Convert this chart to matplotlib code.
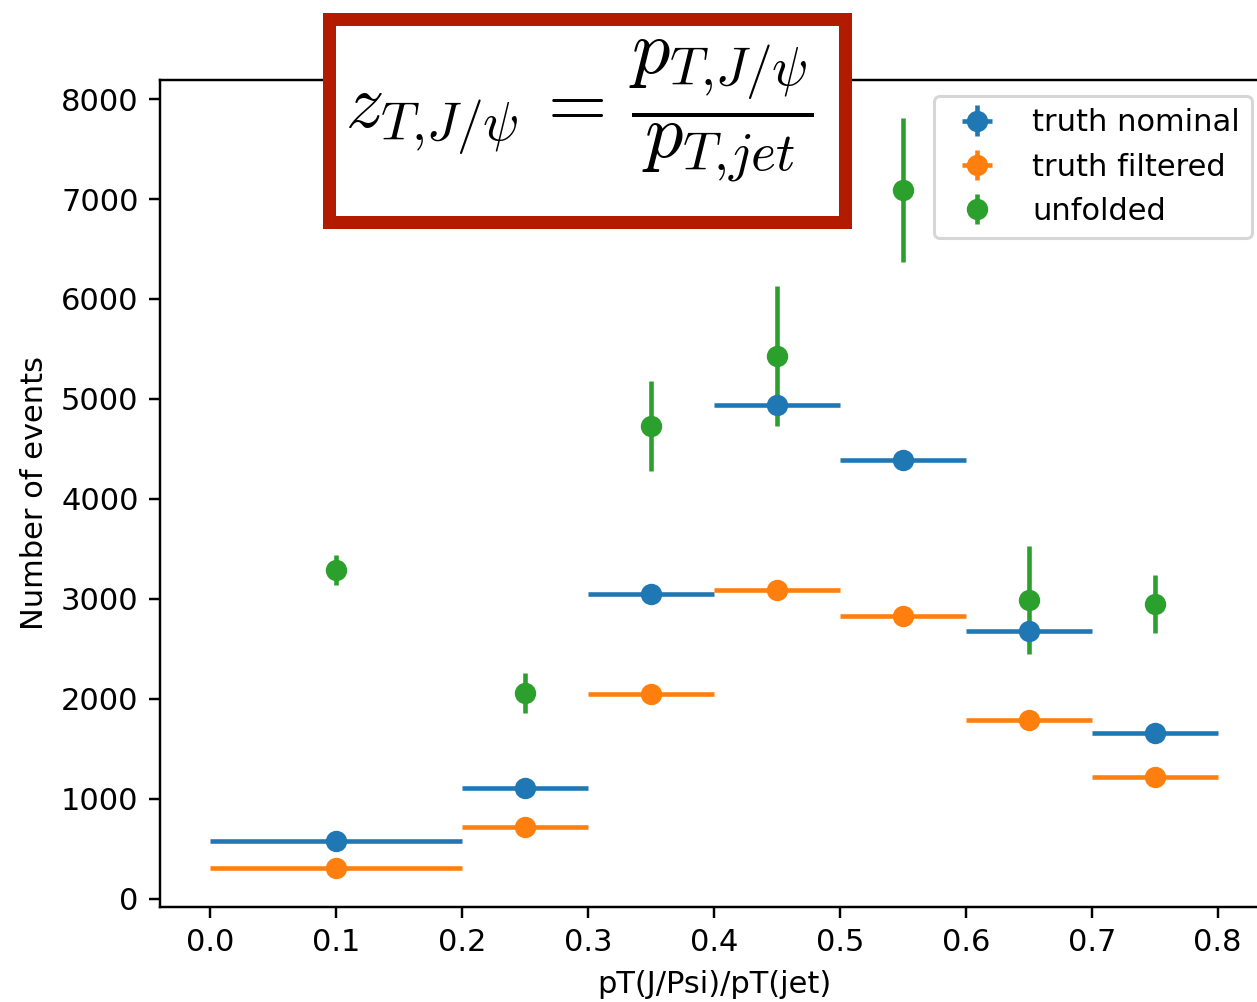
import matplotlib
matplotlib.use('Agg')
import matplotlib.pyplot as plt
from matplotlib.patches import Rectangle

plt.rcParams['mathtext.fontset'] = 'cm'

bin_lo = [0.0, 0.2, 0.3, 0.4, 0.5, 0.6, 0.7]
bin_hi = [0.2, 0.3, 0.4, 0.5, 0.6, 0.7, 0.8]

truth_nominal = [580, 1110, 3050, 4940, 4390, 2680, 1660]
truth_nominal_err = [24, 33, 55, 70, 66, 52, 41]
truth_filtered = [310, 720, 2050, 3090, 2830, 1790, 1220]
truth_filtered_err = [18, 27, 45, 56, 53, 42, 35]
unfolded = [3290, 2060, 4730, 5430, 7090, 2990, 2950]
unfolded_err = [150, 200, 450, 700, 725, 540, 290]

centers = [(a + b) / 2 for a, b in zip(bin_lo, bin_hi)]
half_w = [(b - a) / 2 for a, b in zip(bin_lo, bin_hi)]

fig = plt.figure(figsize=(1257 / 220, 1002 / 220), dpi=220)
ax = fig.add_axes([0.1273, 0.0948, 0.8815, 0.8254])

ax.errorbar(centers, truth_nominal, xerr=half_w, yerr=truth_nominal_err,
            fmt='o', label='truth nominal')
ax.errorbar(centers, truth_filtered, xerr=half_w, yerr=truth_filtered_err,
            fmt='o', label='truth filtered')
ax.errorbar(centers, unfolded, yerr=unfolded_err, fmt='o', label='unfolded',
            zorder=1.5)

ax.set_xlabel('pT(J/Psi)/pT(jet)')
ax.set_ylabel('Number of events')
ax.set_xticks([0.0, 0.1, 0.2, 0.3, 0.4, 0.5, 0.6, 0.7, 0.8])
ax.spines['right'].set_visible(False)  # cropped off in the original

ax.legend(loc='upper right', bbox_to_anchor=(1252 / 1257, 1 - 96 / 1002),
          bbox_transform=fig.transFigure, borderaxespad=0)

# formula box pasted over the top of the plot
box = Rectangle((0.2621, 0.7789), 0.4105, 0.2026, transform=fig.transFigure,
                facecolor='white', edgecolor='#b31b00', linewidth=13 * 72 / 220,
                zorder=5)
fig.add_artist(box)
fig.text(0.4606, 0.890,
         r'$z_{T{,}J/\psi}\,=\,\dfrac{p_{T{,}J/\psi}}{p_{T{,}jet}}$',
         ha='center', va='center', fontsize=25, zorder=6)

fig.savefig('out.png', dpi=220)
